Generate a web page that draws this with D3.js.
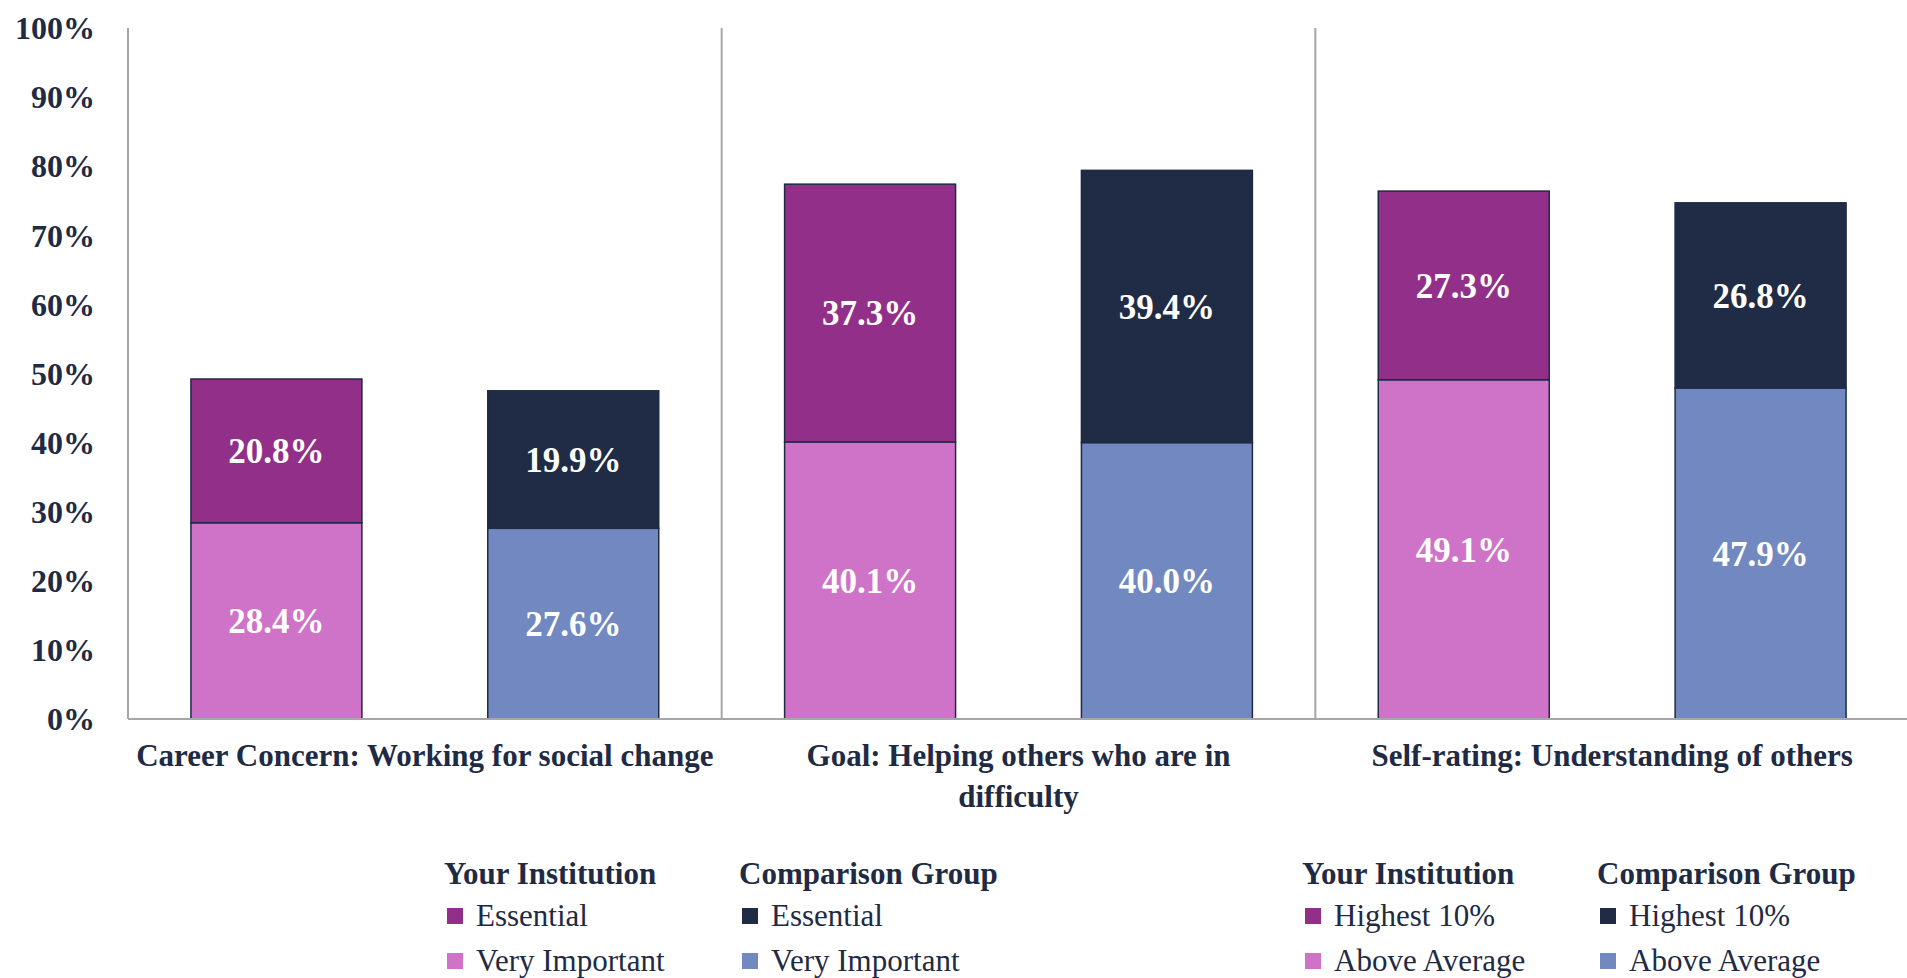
<!DOCTYPE html>
<html>
<head>
<meta charset="utf-8">
<script src="https://cdn.jsdelivr.net/npm/d3@7/dist/d3.min.js"></script>
<style>
  body { margin: 0; background: #fff; }
</style>
</head>
<body>
<svg id="chart" width="1907" height="978"></svg>
<script>
// categories, one entry per line of the axis label
var categoryLines = [
  ["Career Concern: Working for social change"],
  ["Goal: Helping others who are in", "difficulty"],
  ["Self-rating: Understanding of others"]
];
var categories = categoryLines.map(function (l) { return l.join(" "); });
var groups = ["Your Institution", "Comparison Group"];

// values in percent (lower segment, upper segment)
var instLower = [28.4, 40.1, 49.1];
var instUpper = [20.8, 37.3, 27.3];
var compLower = [27.6, 40.0, 47.9];
var compUpper = [19.9, 39.4, 26.8];

var yTicks = [0, 10, 20, 30, 40, 50, 60, 70, 80, 90, 100];

var legendHeaders = ["Your Institution", "Comparison Group"];
var legendItemsA = ["Essential", "Very Important"];
var legendItemsB = ["Highest 10%", "Above Average"];

var colors = {
  instUpper: "#923089", instLower: "#cf73c8",
  compUpper: "#202b45", compLower: "#7189c0"
};
var navy = "#1f2a44";
var gray = "#a6a6a6";
var serif = "'Liberation Serif', 'Times New Roman', 'DejaVu Serif', serif";

var svg = d3.select("#chart");

var y = d3.scaleLinear().domain([0, 100]).range([719, 28]);
var x0 = d3.scaleBand().domain(categories).range([128, 1909]);
var x1 = d3.scaleBand().domain(groups).range([0, x0.bandwidth()])
  .paddingInner(0.424).paddingOuter(0.212);

// y axis labels
svg.append("g").selectAll("text")
  .data(yTicks).join("text")
  .attr("x", 95)
  .attr("y", function (d) { return y(d); })
  .attr("dy", "0.35em")
  .attr("text-anchor", "end")
  .attr("font-family", serif)
  .attr("font-size", 32)
  .attr("font-weight", "bold")
  .attr("fill", navy)
  .text(function (d) { return d + "%"; });

// bars
var rows = categories.map(function (c, i) {
  return [
    { cat: c, grp: groups[0], lower: instLower[i], upper: instUpper[i], cl: colors.instLower, cu: colors.instUpper },
    { cat: c, grp: groups[1], lower: compLower[i], upper: compUpper[i], cl: colors.compLower, cu: colors.compUpper }
  ];
});
var bars = d3.merge(rows);

var g = svg.append("g");
bars.forEach(function (b) {
  var bx = x0(b.cat) + x1(b.grp);
  var w = x1.bandwidth();
  var segs = [
    { y0: 0, y1: b.lower, fill: b.cl, v: b.lower },
    { y0: b.lower, y1: b.lower + b.upper, fill: b.cu, v: b.upper }
  ];
  segs.forEach(function (s) {
    g.append("rect")
      .attr("x", bx)
      .attr("y", y(s.y1))
      .attr("width", w)
      .attr("height", y(s.y0) - y(s.y1))
      .attr("fill", s.fill)
      .attr("stroke", navy)
      .attr("stroke-width", 1.5);
    g.append("text")
      .attr("x", bx + w / 2)
      .attr("y", y((s.y0 + s.y1) / 2))
      .attr("dy", "0.35em")
      .attr("text-anchor", "middle")
      .attr("font-family", serif)
      .attr("font-size", 35)
      .attr("font-weight", "bold")
      .attr("fill", "#fff")
      .text(s.v.toFixed(1) + "%");
  });
});

// axis lines and separators
svg.append("line")
  .attr("x1", 128).attr("x2", 1907)
  .attr("y1", y(0)).attr("y2", y(0))
  .attr("stroke", gray).attr("stroke-width", 2);
svg.append("g").selectAll("line")
  .data(categories).join("line")
  .attr("x1", function (d) { return x0(d); })
  .attr("x2", function (d) { return x0(d); })
  .attr("y1", y(100)).attr("y2", y(0))
  .attr("stroke", gray).attr("stroke-width", 2);

// category labels
categoryLines.forEach(function (lines, i) {
  var t = svg.append("text")
    .attr("x", x0(categories[i]) + x0.bandwidth() / 2)
    .attr("y", 766)
    .attr("text-anchor", "middle")
    .attr("font-family", serif)
    .attr("font-size", 31)
    .attr("font-weight", "bold")
    .attr("fill", navy);
  lines.forEach(function (l, j) {
    t.append("tspan")
      .attr("x", x0(categories[i]) + x0.bandwidth() / 2)
      .attr("dy", j === 0 ? 0 : 41)
      .text(l);
  });
});

// legends
function legend(x, items) {
  var lg = svg.append("g").attr("transform", "translate(" + x + ",0)");
  var swatches = [[colors.instUpper, colors.instLower], [colors.compUpper, colors.compLower]];
  legendHeaders.forEach(function (h, c) {
    var cx = c * 295;
    lg.append("text")
      .attr("x", cx).attr("y", 884)
      .attr("font-family", serif)
      .attr("font-size", 31).attr("font-weight", "bold")
      .attr("fill", navy).text(h);
    items.forEach(function (it, r) {
      var by = 926 + r * 45;
      lg.append("rect")
        .attr("x", cx + 3).attr("y", by - 18)
        .attr("width", 16).attr("height", 16)
        .attr("fill", swatches[c][r]);
      lg.append("text")
        .attr("x", cx + 32).attr("y", by)
        .attr("font-family", serif)
        .attr("font-size", 31)
        .attr("fill", navy).text(it);
    });
  });
}
legend(444, legendItemsA);
legend(1302, legendItemsB);
</script>
</body>
</html>
